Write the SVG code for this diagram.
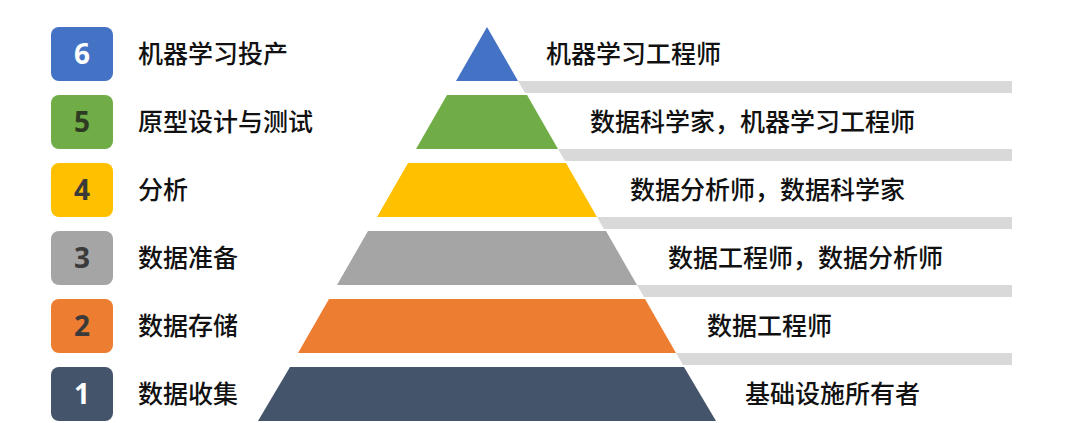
<svg xmlns="http://www.w3.org/2000/svg" width="1077" height="423" viewBox="0 0 1077 423">
<style>
.box{stroke:none}
.num{font-family:"Open Sans","Liberation Sans",sans-serif;font-weight:bold;font-size:28px;text-anchor:middle}
.lbl{font-family:"Noto Sans CJK SC","Noto Sans",sans-serif;font-size:25px;font-weight:500;fill:#111}
.band{fill:#D9D9D9}
</style>
<rect width="1077" height="423" fill="#FFFFFF"/>
<g id="bands">
<polygon class="band" points="518,81 1012,81 1012,93 525,93"/>
<polygon class="band" points="558,149 1012,149 1012,161 565,161"/>
<polygon class="band" points="597,217 1012,217 1012,229 604,229"/>
<polygon class="band" points="637,285 1012,285 1012,297 644,297"/>
<polygon class="band" points="676,353 1012,353 1012,365 683,365"/>
</g>
<g id="level6">
<rect class="box" x="51" y="27" width="62" height="54" rx="8" fill="#4472C4"/>
<text class="num" x="82" y="64" fill="#FFFFFF">6</text>
<text class="lbl" x="138" y="63">机器学习投产</text>
<polygon points="487,27 518,81 456,81" fill="#4472C4"/>
<text class="lbl" x="546" y="63">机器学习工程师</text>
</g>
<g id="level5">
<rect class="box" x="51" y="95" width="62" height="54" rx="8" fill="#70AD47"/>
<text class="num" x="82" y="132" fill="#2E3B22">5</text>
<text class="lbl" x="138" y="131">原型设计与测试</text>
<polygon points="447,95 527,95 558,149 416,149" fill="#70AD47"/>
<text class="lbl" x="590" y="131">数据科学家，机器学习工程师</text>
</g>
<g id="level4">
<rect class="box" x="51" y="163" width="62" height="54" rx="8" fill="#FFC000"/>
<text class="num" x="82" y="200" fill="#3A3A3A">4</text>
<text class="lbl" x="138" y="199">分析</text>
<polygon points="408,163 566,163 597,217 377,217" fill="#FFC000"/>
<text class="lbl" x="630" y="199">数据分析师，数据科学家</text>
</g>
<g id="level3">
<rect class="box" x="51" y="231" width="62" height="54" rx="8" fill="#A5A5A5"/>
<text class="num" x="82" y="268" fill="#3A3A3A">3</text>
<text class="lbl" x="138" y="267">数据准备</text>
<polygon points="368,231 606,231 637,285 337,285" fill="#A5A5A5"/>
<text class="lbl" x="668" y="267">数据工程师，数据分析师</text>
</g>
<g id="level2">
<rect class="box" x="51" y="299" width="62" height="54" rx="8" fill="#ED7D31"/>
<text class="num" x="82" y="336" fill="#3A3A3A">2</text>
<text class="lbl" x="138" y="335">数据存储</text>
<polygon points="329,299 645,299 676,353 298,353" fill="#ED7D31"/>
<text class="lbl" x="707" y="335">数据工程师</text>
</g>
<g id="level1">
<rect class="box" x="51" y="367" width="62" height="54" rx="8" fill="#44546A"/>
<text class="num" x="82" y="404" fill="#FFFFFF">1</text>
<text class="lbl" x="138" y="403">数据收集</text>
<polygon points="290,367 684,367 716,421 258,421" fill="#44546A"/>
<text class="lbl" x="745" y="403">基础设施所有者</text>
</g>
</svg>
